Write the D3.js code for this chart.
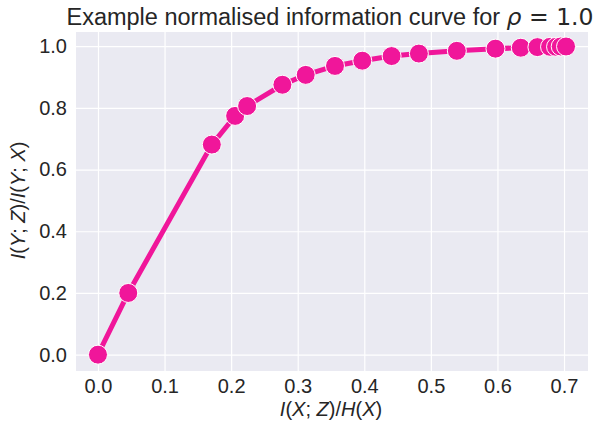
<!DOCTYPE html>
<html>
<head>
<meta charset="utf-8">
<script src="https://cdn.jsdelivr.net/npm/d3@7"></script>
<style>
  body { margin: 0; background: #fff; }
  text { font-family: "Liberation Sans", Arial, sans-serif; }
</style>
</head>
<body>
<script>
// values
const xValues = [0.0, 0.0455, 0.171, 0.206, 0.224, 0.277, 0.312, 0.356, 0.397, 0.441, 0.482, 0.539, 0.597, 0.635, 0.660, 0.679, 0.688, 0.695, 0.703];
const yValues = [0.0, 0.200, 0.681, 0.774, 0.806, 0.875, 0.907, 0.936, 0.953, 0.968, 0.976, 0.985, 0.992, 0.995, 0.997, 0.998, 0.998, 0.999, 0.999];
const xTicks = [0.0, 0.1, 0.2, 0.3, 0.4, 0.5, 0.6, 0.7];
const yTicks = [0.0, 0.2, 0.4, 0.6, 0.8, 1.0];

const w = 597, h = 425;
const m = {left: 76, right: 9, top: 32, bottom: 54};
const color = "#f0169a";

const svg = d3.select("body").append("svg")
    .attr("width", w)
    .attr("height", h);

const x = d3.scaleLinear().domain([-0.033, 0.736]).range([m.left, w - m.right]);
const y = d3.scaleLinear().domain([-0.053, 1.046]).range([h - m.bottom, m.top]);

svg.append("rect")
    .attr("x", m.left).attr("y", m.top)
    .attr("width", w - m.left - m.right)
    .attr("height", h - m.top - m.bottom)
    .attr("fill", "#eaeaf2");

// grid
svg.append("g")
    .attr("transform", `translate(0,${h - m.bottom})`)
    .call(d3.axisBottom(x).tickValues(xTicks).tickSize(-(h - m.top - m.bottom)).tickFormat(d3.format(".1f")).tickPadding(8))
    .call(g => g.select(".domain").remove())
    .call(g => g.selectAll("line").attr("stroke", "#fff").attr("stroke-width", 1.2))
    .call(g => g.selectAll("text").attr("font-size", 20).attr("fill", "#262626"));

svg.append("g")
    .attr("transform", `translate(${m.left},0)`)
    .call(d3.axisLeft(y).tickValues(yTicks).tickSize(-(w - m.left - m.right)).tickFormat(d3.format(".1f")).tickPadding(9))
    .call(g => g.select(".domain").remove())
    .call(g => g.selectAll("line").attr("stroke", "#fff").attr("stroke-width", 1.2))
    .call(g => g.selectAll("text").attr("font-size", 20).attr("fill", "#262626"));

const pts = xValues.map((d, i) => [d, yValues[i]]);

svg.append("path")
    .datum(pts)
    .attr("fill", "none")
    .attr("stroke", color)
    .attr("stroke-width", 5)
    .attr("d", d3.line().x(d => x(d[0])).y(d => y(d[1])));

svg.selectAll("circle.pt")
    .data(pts)
    .enter()
    .append("circle")
    .attr("class", "pt")
    .attr("cx", d => x(d[0]))
    .attr("cy", d => y(d[1]))
    .attr("r", 9.5)
    .attr("fill", color)
    .attr("stroke", "#fff")
    .attr("stroke-width", 1);

// title
const title = svg.append("text")
    .attr("x", 330).attr("y", 25)
    .attr("text-anchor", "middle")
    .attr("font-size", 23.5)
    .attr("fill", "#262626");
title.append("tspan").text("Example normalised information curve for ");
title.append("tspan").attr("font-style", "italic").attr("font-family", "DejaVu Sans").text("ρ");
title.append("tspan").attr("font-family", "DejaVu Sans").text(" = 1.0");

// axis labels
function mathLabel(sel, parts) {
    parts.forEach(p => {
        sel.append("tspan").attr("font-style", p[1] ? "italic" : "normal").text(p[0]);
    });
}

const xl = svg.append("text")
    .attr("x", x(0.35)).attr("y", 416)
    .attr("text-anchor", "middle")
    .attr("font-size", 20)
    .attr("fill", "#262626");
mathLabel(xl, [["I", 1], ["(", 0], ["X", 1], [";", 0], [" Z", 1], [")/", 0], ["H", 1], ["(", 0], ["X", 1], [")", 0]]);

const yl = svg.append("text")
    .attr("transform", `translate(25,${y(0.5)}) rotate(-90)`)
    .attr("text-anchor", "middle")
    .attr("font-size", 20)
    .attr("fill", "#262626");
mathLabel(yl, [["I", 1], ["(", 0], ["Y", 1], [";", 0], [" Z", 1], [")/", 0], ["I", 1], ["(", 0], ["Y", 1], [";", 0], [" X", 1], [")", 0]]);
</script>
</body>
</html>
